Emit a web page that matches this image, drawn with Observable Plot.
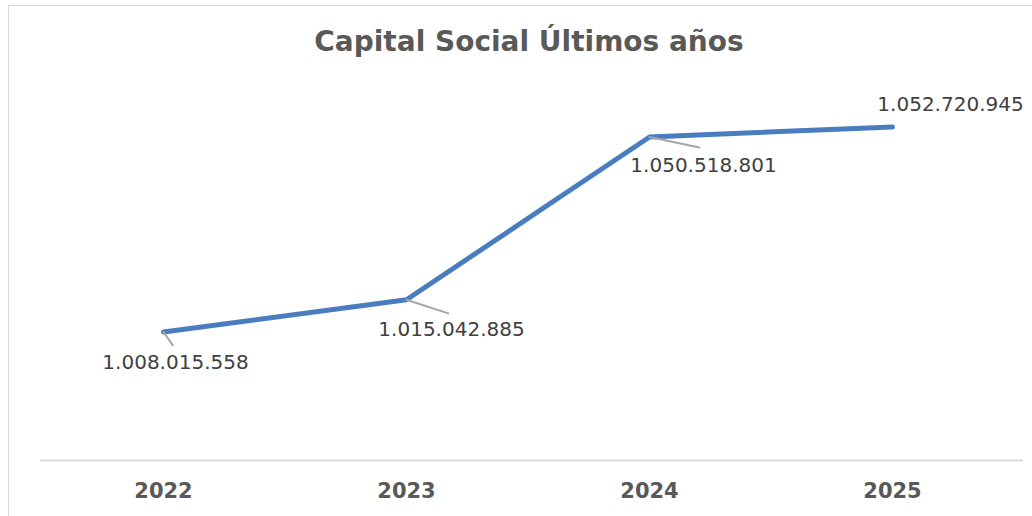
<!DOCTYPE html>
<html><head><meta charset="utf-8">
<script src="https://cdn.jsdelivr.net/npm/d3@7"></script>
<script src="https://cdn.jsdelivr.net/npm/@observablehq/plot@0.6"></script>
<style>
html,body{margin:0;padding:0;background:#fff;overflow:hidden;width:1032px;height:516px}
#frame{position:absolute;left:8px;top:5px;width:1100px;height:600px;border:1.5px solid #d9d9d9;box-sizing:border-box}
#title{position:absolute;left:0;width:1058px;top:28px;text-align:center;font:bold 28px "DejaVu Sans",sans-serif;color:#595959;line-height:1;z-index:2}
#chart{position:absolute;left:0;top:0}
</style></head><body>
<div id="frame"></div>
<div id="title">Capital Social Últimos años</div>
<div id="chart"></div>
<script>
const years = ["2022", "2023", "2024", "2025"];
const values = [1008015558, 1015042885, 1050518801, 1052720945];
const yDomain = [980000000, 1060000000];

const fmt = d3.formatLocale({decimal: ",", thousands: ".", grouping: [3], currency: ["", ""]}).format(",d");
const data = years.map((year, i) => ({year, value: values[i], label: fmt(values[i])}));

// label placement (styling)
const callouts = {
  "2022": {dx: 12, dy: 31, len: 16, rot: 145},
  "2023": {dx: 45, dy: 30, len: 44, rot: 108},
  "2024": {dx: 54, dy: 29, len: 51, rot: 102},
  "2025": {dx: 58, dy: -22, len: 0, rot: 0}
};

const calloutMarks = data.flatMap(d => {
  const c = callouts[d.year];
  const marks = [];
  if (c.len > 0) {
    marks.push(Plot.vector([d], {x: "year", y: "value", length: c.len, rotate: c.rot, anchor: "start", r: 0, stroke: "#a6a6a6", strokeWidth: 2}));
  }
  marks.push(Plot.text([d], {x: "year", y: "value", text: "label", dx: c.dx, dy: c.dy, fontSize: 20, fill: "#404040", lineAnchor: "middle"}));
  return marks;
});

const chart = Plot.plot({
  width: 1032,
  height: 516,
  marginTop: 93,
  marginBottom: 56,
  marginLeft: 40,
  marginRight: 18,
  style: {fontFamily: "DejaVu Sans, sans-serif", background: "transparent", overflow: "visible"},
  x: {type: "point", domain: years, padding: 0.5, axis: null},
  y: {domain: yDomain, axis: null},
  marks: [
    Plot.ruleY([yDomain[0]], {stroke: "#d9d9d9", strokeWidth: 2, insetRight: -9}),
    Plot.axisX({tickSize: 0, tickPadding: 23, fontSize: 21, fontWeight: "bold", fill: "#595959", label: null}),
    Plot.line(data, {x: "year", y: "value", stroke: "#4a7dbf", strokeWidth: 5, strokeLinecap: "round", strokeLinejoin: "round"}),
    ...calloutMarks
  ]
});
document.getElementById("chart").appendChild(chart);
</script>
</body></html>
